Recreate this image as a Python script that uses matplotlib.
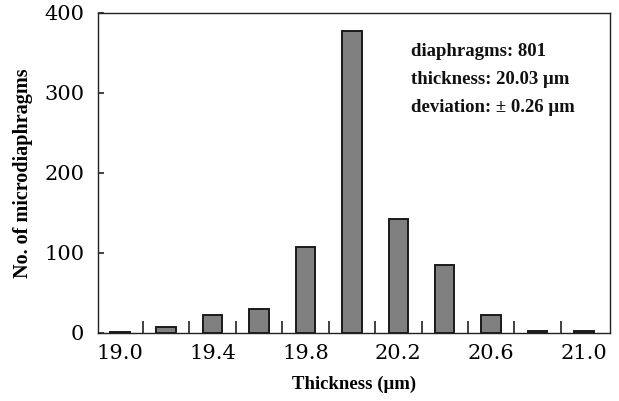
import matplotlib
matplotlib.use("Agg")
import matplotlib.pyplot as plt
import numpy as np

thickness = ["19.0", "19.2", "19.4", "19.6", "19.8", "20.0", "20.2", "20.4", "20.6", "20.8", "21.0"]
counts = [1, 8, 23, 30, 108, 377, 143, 85, 22, 2, 2]
xtick_labels = ["19.0", "19.4", "19.8", "20.2", "20.6", "21.0"]
yticks = [0, 100, 200, 300, 400]
info_lines = ["diaphragms: 801", "thickness: 20.03 μm", "deviation: ± 0.26 μm"]

fig = plt.figure(figsize=(6.19, 4.01), dpi=100)
ax = fig.add_axes([98/619, 1-333/401, (610-98)/619, (333-13)/401])

x = np.arange(len(thickness))
ax.bar(x, counts, width=0.42, color="#808080", edgecolor="#1a1a1a", linewidth=1.4)

ax.set_xlim(-0.47, len(thickness) - 1 + 0.56)
ax.set_ylim(0, 400)

label_pos = [thickness.index(t) for t in xtick_labels]
ax.set_xticks(label_pos)
ax.set_xticklabels(xtick_labels, family="DejaVu Serif", fontsize=15)
ax.set_xticks(np.arange(len(thickness) - 1) + 0.5, minor=True)
ax.tick_params(axis="x", which="major", length=0, pad=8)
ax.tick_params(axis="x", which="minor", direction="in", length=9, width=1.2, color="#222222")

ax.set_yticks(yticks)
ax.set_yticklabels([str(v) for v in yticks], family="DejaVu Serif", fontsize=15)
ax.tick_params(axis="y", direction="in", length=4, width=1.2, pad=10, color="#222222")

for s in ax.spines.values():
    s.set_color("#222222")
    s.set_linewidth(1.0)

ax.set_ylabel("No. of microdiaphragms", family="Liberation Serif", fontweight="bold",
              fontsize=14.5, labelpad=8)
ax.set_xlabel("Thickness (μm)", family="Liberation Serif", fontweight="bold",
              fontsize=13.5, labelpad=9)

for i, line in enumerate(info_lines):
    ax.text(411/619, 1 - (52 + 28*i)/401, line, transform=fig.transFigure,
            family="Liberation Serif", fontweight="bold", fontsize=13.5,
            ha="left", va="center", color="#111111")

fig.savefig("out.png", dpi=100)
